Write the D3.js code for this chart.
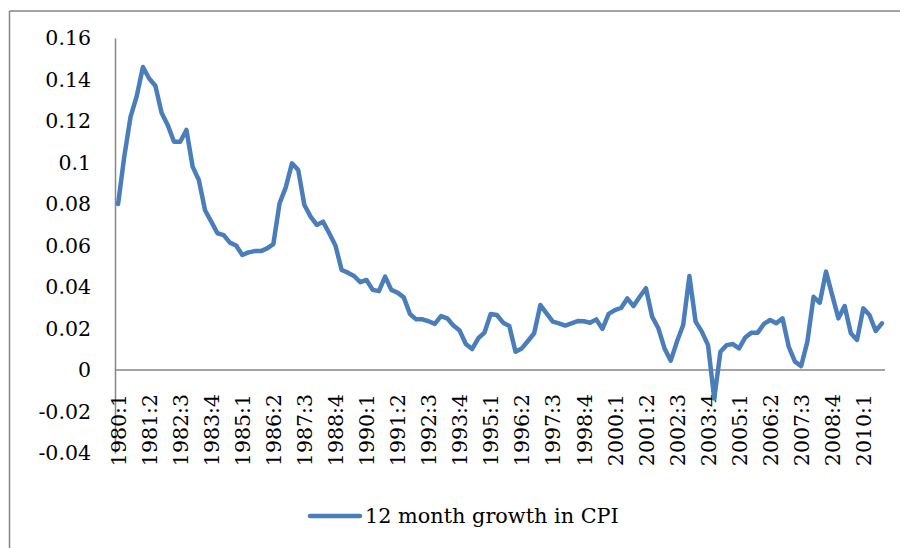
<!DOCTYPE html>
<html>
<head>
<meta charset="utf-8">
<script src="https://cdn.jsdelivr.net/npm/d3@7"></script>
<style>
  html, body { margin: 0; padding: 0; background: #fff; }
  svg { display: block; }
  text { font-family: "DejaVu Serif", "Liberation Serif", serif; fill: #000; }
</style>
</head>
<body>
<svg id="chart" width="900" height="548"></svg>
<script>
// ---- data ----
const startYear = 1980;
const nQuarters = 124; // 1980:1 .. 2010:4
const categories = [];
for (let k = 0; k < nQuarters; k++) {
  categories.push((startYear + Math.floor(k / 4)) + ":" + (k % 4 + 1));
}
const cpiGrowth = [
  0.080, 0.103, 0.122, 0.132, 0.146, 0.1405, 0.137, 0.124, 0.118, 0.110,
  0.110, 0.1157, 0.098, 0.0916, 0.077, 0.0715, 0.0659, 0.065, 0.0614, 0.060,
  0.0554, 0.0567, 0.0573, 0.0573, 0.0586, 0.0607, 0.0803, 0.088, 0.0996, 0.0964,
  0.0795, 0.0739, 0.0699, 0.0715, 0.0659, 0.060, 0.0482, 0.0469, 0.0453, 0.0423,
  0.0434, 0.0386, 0.038, 0.045, 0.0386, 0.0373, 0.035, 0.027, 0.0244, 0.0244,
  0.0235, 0.0222, 0.026, 0.0249, 0.0214, 0.019, 0.0125, 0.0101, 0.0153, 0.018,
  0.027, 0.0265, 0.0228, 0.0212, 0.0088, 0.0104, 0.014, 0.0177, 0.0313, 0.0273,
  0.0233, 0.0225, 0.0214, 0.0225, 0.0236, 0.0235, 0.0228, 0.0244, 0.0198, 0.027,
  0.0289, 0.0299, 0.0345, 0.0308, 0.0353, 0.0394, 0.0257, 0.0201, 0.0104, 0.0045,
  0.0137, 0.0217, 0.0453, 0.0233, 0.0185, 0.012, -0.0137, 0.0088, 0.012, 0.0125,
  0.0104, 0.0157, 0.018, 0.018, 0.0222, 0.0241, 0.0225, 0.0249, 0.0112, 0.004,
  0.0019, 0.0137, 0.0353, 0.0324, 0.0474, 0.0361, 0.0249, 0.0308, 0.0177, 0.0145,
  0.0297, 0.0265, 0.0188, 0.0225
];
const yTicks = [0.16, 0.14, 0.12, 0.1, 0.08, 0.06, 0.04, 0.02, 0, -0.02, -0.04];
const yTickLabels = ["0.16", "0.14", "0.12", "0.1", "0.08", "0.06", "0.04", "0.02", "0", "-0.02", "-0.04"];
const xTickLabels = ["1980:1","1981:2","1982:3","1983:4","1985:1","1986:2","1987:3","1988:4",
  "1990:1","1991:2","1992:3","1993:4","1995:1","1996:2","1997:3","1998:4","2000:1","2001:2",
  "2002:3","2003:4","2005:1","2006:2","2007:3","2008:4","2010:1"];
const seriesName = "12 month growth in CPI";

// ---- layout ----
const svg = d3.select("#chart");
const plotLeft = 115, plotRight = 885, plotTop = 38, plotBottom = 453;
const lineColor = "#4a7ebb";
const axisColor = "#868686";

// chart frame (only top & left edges visible in the picture)
svg.append("line").attr("x1", 9.5).attr("x2", 900).attr("y1", 11).attr("y2", 11)
  .attr("stroke", axisColor).attr("stroke-width", 1.5);
svg.append("line").attr("x1", 9.5).attr("x2", 9.5).attr("y1", 11).attr("y2", 548)
  .attr("stroke", axisColor).attr("stroke-width", 1.5);

const x = d3.scalePoint().domain(categories).range([plotLeft, plotRight]).padding(0.5);
const y = d3.scaleLinear().domain([-0.04, 0.16]).range([plotBottom, plotTop]);

// y axis
const yAxis = d3.axisLeft(y).tickValues(yTicks).tickSize(0).tickPadding(24)
  .tickFormat((d, i) => yTickLabels[i]);
const gy = svg.append("g").attr("transform", `translate(${plotLeft},0)`).call(yAxis);
gy.select(".domain").attr("stroke", axisColor).attr("stroke-width", 1.5);
gy.selectAll("text").attr("font-size", 20.5).attr("font-family", "DejaVu Serif, serif").attr("fill", "#000");

// x axis at zero
const xAxis = d3.axisBottom(x).tickValues(xTickLabels).tickSize(0).tickFormat(d => d);
const gx = svg.append("g").attr("transform", `translate(0,${y(0)})`).call(xAxis);
gx.select(".domain").attr("stroke", axisColor).attr("stroke-width", 1.5)
  .attr("d", `M${plotLeft},0H${plotRight}`);
gx.selectAll(".tick text")
  .attr("font-size", 20.5).attr("font-family", "DejaVu Serif, serif").attr("fill", "#000")
  .attr("text-anchor", "end")
  .attr("transform", `translate(0,${394 - y(0)}) rotate(-90)`)
  .attr("x", 0).attr("y", 0).attr("dy", "0.35em");

// line
const line = d3.line().x((d, i) => x(categories[i])).y(d => y(d));
svg.append("path").datum(cpiGrowth)
  .attr("d", line).attr("fill", "none").attr("stroke", lineColor)
  .attr("stroke-width", 4.5).attr("stroke-linejoin", "round").attr("stroke-linecap", "round");

// legend
const lg = svg.append("g");
lg.append("line").attr("x1", 310).attr("x2", 360).attr("y1", 516).attr("y2", 516)
  .attr("stroke", lineColor).attr("stroke-width", 4.5).attr("stroke-linecap", "round");
lg.append("text").attr("x", 365).attr("y", 516).attr("dy", "0.35em")
  .attr("font-size", 20.8).text(seriesName);
</script>
</body>
</html>
